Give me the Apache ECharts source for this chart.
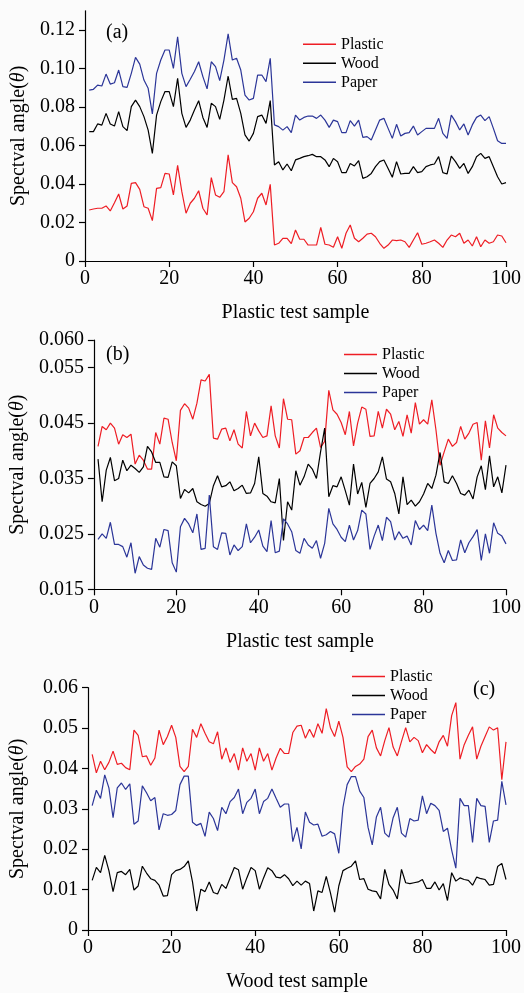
<!DOCTYPE html>
<html>
<head>
<meta charset="utf-8">
<script src="https://cdn.jsdelivr.net/npm/echarts@6/dist/echarts.min.js"></script>
<style>
  html, body { margin: 0; padding: 0; background: #fbfbfb; }
  #chart { width: 524px; height: 993px; }
</style>
</head>
<body>
<div id="chart"></div>
<script>
// Spectral angle of each test sample against the three reference materials.
const seriesNames = ['Plastic', 'Wood', 'Paper'];

// (a) Plastic test samples
const plasticA = [
  0.0265,0.0270,0.0274,0.0274,0.0286,0.0260,0.0303,0.0348,0.0270,0.0286,
  0.0403,0.0407,0.0372,0.0282,0.0274,0.0210,0.0377,0.0381,0.0455,0.0452,
  0.0343,0.0497,0.0360,0.0248,0.0300,0.0326,0.0365,0.0274,0.0239,0.0433,
  0.0343,0.0331,0.0360,0.0551,0.0407,0.0386,0.0326,0.0203,0.0222,0.0256,
  0.0326,0.0352,0.0291,0.0398,0.0083,0.0092,0.0118,0.0118,0.0090,0.0161,
  0.0113,0.0113,0.0083,0.0083,0.0083,0.0175,0.0087,0.0083,0.0071,0.0126,
  0.0066,0.0144,0.0187,0.0118,0.0100,0.0118,0.0140,0.0144,0.0126,0.0092,
  0.0066,0.0083,0.0109,0.0106,0.0109,0.0100,0.0071,0.0109,0.0147,0.0087,
  0.0092,0.0100,0.0109,0.0092,0.0071,0.0109,0.0135,0.0126,0.0144,0.0092,
  0.0109,0.0078,0.0126,0.0074,0.0109,0.0092,0.0100,0.0135,0.0130,0.0095];
const woodA = [
  0.0672,0.0672,0.0712,0.0706,0.0767,0.0712,0.0701,0.0776,0.0698,0.0677,
  0.0802,0.0836,0.0802,0.0750,0.0680,0.0559,0.0758,0.0828,0.0880,0.0880,
  0.0802,0.0949,0.0767,0.0694,0.0732,0.0784,0.0833,0.0746,0.0694,0.0819,
  0.0802,0.0736,0.0836,0.0961,0.0840,0.0845,0.0767,0.0655,0.0623,0.0663,
  0.0750,0.0758,0.0715,0.0833,0.0499,0.0516,0.0473,0.0504,0.0469,0.0525,
  0.0533,0.0542,0.0547,0.0554,0.0542,0.0542,0.0525,0.0490,0.0533,0.0516,
  0.0459,0.0459,0.0507,0.0494,0.0521,0.0429,0.0438,0.0455,0.0490,0.0516,
  0.0525,0.0481,0.0435,0.0516,0.0452,0.0455,0.0455,0.0490,0.0459,0.0464,
  0.0490,0.0499,0.0504,0.0542,0.0459,0.0452,0.0545,0.0516,0.0481,0.0507,
  0.0455,0.0490,0.0542,0.0559,0.0533,0.0542,0.0490,0.0438,0.0400,0.0407];
const paperA = [
  0.0888,0.0892,0.0914,0.0909,0.0971,0.0919,0.0926,0.0992,0.0906,0.0902,
  0.0975,0.1058,0.1023,0.0940,0.0897,0.0764,0.0975,0.1044,0.1096,0.1096,
  0.1001,0.1165,0.0975,0.0906,0.0944,0.0984,0.1035,0.0958,0.0894,0.1035,
  0.1010,0.0937,0.1044,0.1180,0.1044,0.1053,0.0992,0.0862,0.0836,0.0845,
  0.0966,0.0966,0.0932,0.1053,0.0707,0.0698,0.0680,0.0698,0.0667,0.0758,
  0.0732,0.0746,0.0753,0.0753,0.0741,0.0758,0.0732,0.0694,0.0732,0.0724,
  0.0667,0.0667,0.0729,0.0701,0.0732,0.0642,0.0646,0.0629,0.0681,0.0732,
  0.0741,0.0689,0.0637,0.0710,0.0649,0.0663,0.0667,0.0701,0.0655,0.0672,
  0.0689,0.0689,0.0689,0.0741,0.0663,0.0637,0.0758,0.0724,0.0681,0.0712,
  0.0655,0.0707,0.0746,0.0758,0.0729,0.0750,0.0689,0.0625,0.0611,0.0611];

// (b) second set of plastic test samples
const plasticB = [
  0.0408,0.0444,0.0438,0.0450,0.0441,0.0412,0.0429,0.0424,0.0430,0.0376,
  0.0392,0.0383,0.0367,0.0367,0.0433,0.0412,0.0459,0.0457,0.0415,0.0382,
  0.0473,0.0485,0.0477,0.0457,0.0486,0.0528,0.0526,0.0538,0.0423,0.0421,
  0.0439,0.0441,0.0418,0.0438,0.0412,0.0405,0.0471,0.0427,0.0450,0.0436,
  0.0424,0.0427,0.0481,0.0427,0.0405,0.0494,0.0457,0.0456,0.0394,0.0400,
  0.0424,0.0424,0.0433,0.0441,0.0406,0.0417,0.0509,0.0474,0.0466,0.0451,
  0.0429,0.0471,0.0409,0.0450,0.0479,0.0475,0.0426,0.0427,0.0471,0.0441,
  0.0475,0.0466,0.0438,0.0453,0.0426,0.0465,0.0432,0.0487,0.0448,0.0456,
  0.0448,0.0492,0.0438,0.0374,0.0398,0.0421,0.0408,0.0415,0.0444,0.0421,
  0.0432,0.0448,0.0451,0.0383,0.0454,0.0405,0.0465,0.0441,0.0433,0.0427];
const woodB = [
  0.0385,0.0308,0.0365,0.0388,0.0346,0.0350,0.0383,0.0364,0.0374,0.0368,
  0.0361,0.0371,0.0408,0.0398,0.0379,0.0379,0.0353,0.0352,0.0380,0.0373,
  0.0314,0.0330,0.0324,0.0332,0.0308,0.0303,0.0300,0.0305,0.0337,0.0355,
  0.0335,0.0337,0.0344,0.0328,0.0332,0.0338,0.0323,0.0324,0.0341,0.0389,
  0.0323,0.0318,0.0308,0.0306,0.0350,0.0238,0.0308,0.0293,0.0364,0.0338,
  0.0353,0.0376,0.0367,0.0350,0.0398,0.0441,0.0317,0.0337,0.0335,0.0353,
  0.0328,0.0302,0.0376,0.0322,0.0343,0.0298,0.0341,0.0350,0.0362,0.0389,
  0.0349,0.0344,0.0323,0.0286,0.0353,0.0303,0.0311,0.0300,0.0308,0.0322,
  0.0341,0.0332,0.0356,0.0397,0.0344,0.0341,0.0355,0.0341,0.0323,0.0320,
  0.0329,0.0313,0.0353,0.0373,0.0330,0.0391,0.0335,0.0353,0.0324,0.0374];
const paperB = [
  0.0240,0.0250,0.0242,0.0271,0.0231,0.0231,0.0227,0.0208,0.0234,0.0179,
  0.0209,0.0194,0.0188,0.0186,0.0242,0.0226,0.0258,0.0256,0.0198,0.0181,
  0.0263,0.0278,0.0268,0.0252,0.0286,0.0222,0.0224,0.0320,0.0227,0.0222,
  0.0252,0.0251,0.0212,0.0230,0.0220,0.0227,0.0268,0.0234,0.0244,0.0257,
  0.0228,0.0218,0.0274,0.0216,0.0219,0.0277,0.0268,0.0254,0.0220,0.0215,
  0.0242,0.0230,0.0224,0.0238,0.0206,0.0233,0.0296,0.0268,0.0258,0.0244,
  0.0236,0.0266,0.0239,0.0256,0.0293,0.0286,0.0222,0.0246,0.0266,0.0238,
  0.0280,0.0272,0.0239,0.0254,0.0242,0.0246,0.0230,0.0274,0.0258,0.0266,
  0.0256,0.0302,0.0251,0.0215,0.0198,0.0220,0.0202,0.0203,0.0239,0.0216,
  0.0234,0.0245,0.0258,0.0202,0.0250,0.0215,0.0270,0.0251,0.0246,0.0232];

// (c) Wood test samples
const plasticC = [
  0.0435,0.0389,0.0418,0.0397,0.0415,0.0443,0.0410,0.0413,0.0402,0.0397,
  0.0495,0.0482,0.0429,0.0431,0.0408,0.0426,0.0495,0.0459,0.0479,0.0507,
  0.0477,0.0405,0.0392,0.0405,0.0497,0.0477,0.0511,0.0487,0.0466,0.0461,
  0.0491,0.0423,0.0451,0.0415,0.0437,0.0396,0.0451,0.0418,0.0437,0.0396,
  0.0451,0.0418,0.0437,0.0396,0.0426,0.0450,0.0437,0.0437,0.0489,0.0505,
  0.0507,0.0475,0.0497,0.0477,0.0511,0.0487,0.0548,0.0501,0.0479,0.0517,
  0.0477,0.0404,0.0392,0.0405,0.0411,0.0423,0.0479,0.0495,0.0451,0.0431,
  0.0469,0.0501,0.0453,0.0431,0.0467,0.0501,0.0466,0.0477,0.0469,0.0439,
  0.0459,0.0447,0.0437,0.0466,0.0482,0.0455,0.0531,0.0563,0.0423,0.0459,
  0.0482,0.0503,0.0423,0.0455,0.0479,0.0503,0.0495,0.0501,0.0372,0.0466];
const woodC = [
  0.0123,0.0155,0.0142,0.0185,0.0147,0.0095,0.0142,0.0145,0.0137,0.0150,
  0.0099,0.0109,0.0158,0.0141,0.0127,0.0123,0.0111,0.0084,0.0085,0.0137,
  0.0147,0.0150,0.0157,0.0171,0.0119,0.0047,0.0101,0.0095,0.0119,0.0093,
  0.0089,0.0113,0.0103,0.0129,0.0155,0.0149,0.0101,0.0129,0.0155,0.0147,
  0.0101,0.0129,0.0154,0.0147,0.0131,0.0129,0.0137,0.0127,0.0110,0.0121,
  0.0111,0.0121,0.0115,0.0047,0.0097,0.0093,0.0133,0.0092,0.0044,0.0109,
  0.0147,0.0153,0.0158,0.0171,0.0125,0.0127,0.0101,0.0097,0.0095,0.0077,
  0.0150,0.0113,0.0099,0.0077,0.0150,0.0117,0.0115,0.0117,0.0119,0.0125,
  0.0103,0.0103,0.0119,0.0099,0.0115,0.0073,0.0142,0.0121,0.0129,0.0125,
  0.0123,0.0111,0.0131,0.0127,0.0125,0.0111,0.0113,0.0157,0.0165,0.0125];
const paperC = [
  0.0308,0.0346,0.0326,0.0384,0.0352,0.0278,0.0352,0.0364,0.0348,0.0362,
  0.0262,0.0270,0.0357,0.0340,0.0320,0.0328,0.0248,0.0288,0.0284,0.0286,
  0.0296,0.0360,0.0381,0.0381,0.0267,0.0259,0.0264,0.0232,0.0292,0.0276,
  0.0246,0.0304,0.0288,0.0318,0.0328,0.0349,0.0288,0.0316,0.0326,0.0349,
  0.0288,0.0318,0.0326,0.0349,0.0326,0.0304,0.0312,0.0312,0.0219,0.0254,
  0.0201,0.0292,0.0267,0.0260,0.0262,0.0232,0.0236,0.0244,0.0238,0.0190,
  0.0304,0.0360,0.0380,0.0380,0.0344,0.0328,0.0254,0.0211,0.0280,0.0304,
  0.0240,0.0230,0.0278,0.0304,0.0240,0.0230,0.0276,0.0270,0.0272,0.0332,
  0.0288,0.0314,0.0308,0.0296,0.0244,0.0252,0.0198,0.0153,0.0326,0.0308,
  0.0308,0.0217,0.0326,0.0308,0.0306,0.0217,0.0270,0.0272,0.0368,0.0310];

// Tick values for each vertical axis
const yTicksA = [0, 0.02, 0.04, 0.06, 0.08, 0.10, 0.12];
const yTicksB = [0.015, 0.025, 0.035, 0.045, 0.055, 0.060];
const yTicksC = [0, 0.01, 0.02, 0.03, 0.04, 0.05, 0.06];
const xTitles = ['Plastic test sample', 'Plastic test sample', 'Wood test sample'];
const panelTags = ['(a)', '(b)', '(c)'];

const colors = ['#ee1d24', '#000000', '#2b3598'];
const FONT = '"Liberation Serif", "Times New Roman", serif';

const panels = [
  { values: [plasticA, woodA, paperA], ticks: yTicksA, min: 0, max: 0.13, digits: 2,
    grid: { left: 85, top: 10.75, width: 423, height: 250.25 }, nameGap: 51,
    legend: { left: 303, top: 34.8 }, tag: { x: 106, y: 32.5 } },
  { values: [plasticB, woodB, paperB], ticks: yTicksB, min: 0.015, max: 0.060, digits: 3,
    grid: { left: 86, top: 340, width: 422, height: 249.3 }, nameGap: 61,
    legend: { left: 344, top: 345 }, tag: { x: 106, y: 355 } },
  { values: [plasticC, woodC, paperC], ticks: yTicksC, min: 0, max: 0.06, digits: 2,
    grid: { left: 86, top: 687.7, width: 422, height: 251.3 }, nameGap: 60,
    legend: { left: 352, top: 667 }, tag: { x: 473, y: 690 } }
];

const axisLine = { show: true, onZero: false, lineStyle: { color: '#000', width: 1.2 } };
const labelStyle = { fontFamily: FONT, fontSize: 20, color: '#000' };

const option = {
  backgroundColor: '#fbfbfb',
  animation: false,
  grid: [], xAxis: [], yAxis: [], series: [], legend: [], graphic: []
};

panels.forEach((p, k) => {
  option.grid.push(p.grid);
  option.xAxis.push({
    gridIndex: k, type: 'value', min: 0, max: 100, interval: 20,
    name: xTitles[k], nameLocation: 'middle', nameGap: 42,
    nameTextStyle: labelStyle,
    axisLine: axisLine,
    axisTick: { show: true, inside: false, length: 6, lineStyle: { color: '#000', width: 1.2 } },
    axisLabel: Object.assign({ margin: 8 }, labelStyle),
    splitLine: { show: false }
  });
  option.yAxis.push({
    gridIndex: k, type: 'value', min: p.min, max: p.max,
    name: 'Spectval angle({i|θ})', nameLocation: 'middle', nameGap: p.nameGap,
    nameTextStyle: Object.assign({
      rich: { i: { fontFamily: FONT, fontSize: 20, fontStyle: 'italic', color: '#000' } }
    }, labelStyle),
    axisLine: axisLine,
    axisTick: { show: true, inside: false, length: 6, customValues: p.ticks,
                lineStyle: { color: '#000', width: 1.2 } },
    axisLabel: Object.assign({
      margin: 10, customValues: p.ticks,
      formatter: v => (v === 0 ? '0' : v.toFixed(p.digits))
    }, labelStyle),
    splitLine: { show: false }
  });
  p.values.forEach((vals, s) => {
    option.series.push({
      name: seriesNames[s], type: 'line', xAxisIndex: k, yAxisIndex: k,
      data: vals.map((v, i) => [i + 1, v]),
      showSymbol: false, symbol: 'none',
      lineStyle: { color: colors[s], width: 1.2 },
      itemStyle: { color: colors[s] }
    });
  });
  option.legend.push({
    left: p.legend.left, top: p.legend.top, orient: 'vertical', padding: 0,
    itemGap: 0, itemWidth: 33, itemHeight: 1.6, icon: 'rect', selectedMode: false,
    data: seriesNames,
    textStyle: { fontFamily: FONT, fontSize: 16, lineHeight: 19, color: '#000' }
  });
  option.graphic.push({
    type: 'text', x: p.tag.x, y: p.tag.y,
    style: { text: panelTags[k], fontFamily: FONT, fontSize: 20, fill: '#000', verticalAlign: 'middle' }
  });
});

const chart = echarts.init(document.getElementById('chart'), null, { renderer: 'canvas' });
chart.setOption(option);
</script>
</body>
</html>
